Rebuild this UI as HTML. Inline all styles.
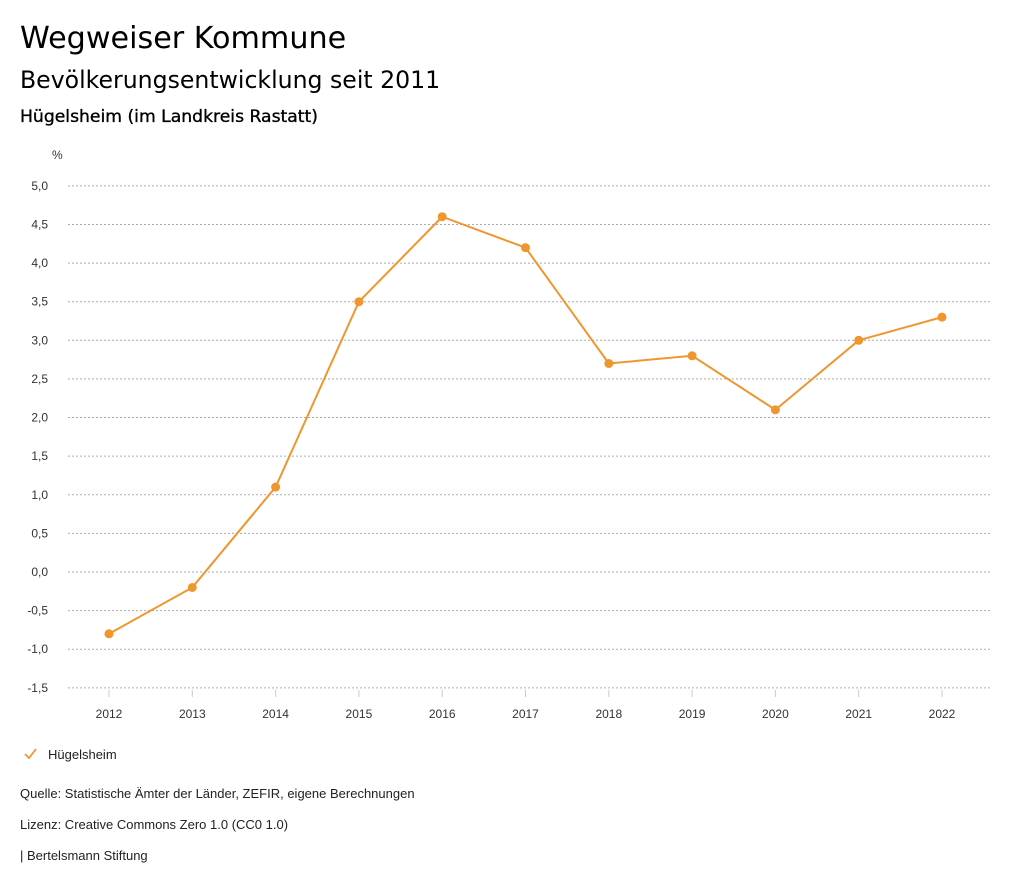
<!DOCTYPE html>
<html><head><meta charset="utf-8"><style>
body{margin:0;background:#fff;font-family:"Liberation Sans",sans-serif;}
svg{display:block}
.h{font-family:"DejaVu Sans",sans-serif;}
</style></head><body>
<svg width="1024" height="888" xmlns="http://www.w3.org/2000/svg">
<text class="h" x="20" y="48" font-size="30.2" fill="#000">Wegweiser Kommune</text>
<text class="h" x="20" y="88" font-size="23.6" fill="#000">Bevölkerungsentwicklung seit 2011</text>
<text class="h" x="20" y="122" font-size="17.2" fill="#000" stroke="#000" stroke-width="0.35">Hügelsheim (im Landkreis Rastatt)</text>
<text x="52" y="159" font-size="12" fill="#333">%</text>
<g id="grid"></g><g id="xt"></g><g id="series"></g>
<g>
<polyline points="25,754 29,758 36,749" fill="none" stroke="#f0962e" stroke-width="1.8"/>
<text x="48" y="759" font-size="13" fill="#222">Hügelsheim</text>
</g>
<text x="20" y="798" font-size="13" fill="#222">Quelle: Statistische Ämter der Länder, ZEFIR, eigene Berechnungen</text>
<text x="20" y="829" font-size="13" fill="#222">Lizenz: Creative Commons Zero 1.0 (CC0 1.0)</text>
<text x="20" y="860" font-size="13" fill="#222">| Bertelsmann Stiftung</text>
</svg>
<script>
const years=[2012,2013,2014,2015,2016,2017,2018,2019,2020,2021,2022];
const values=[-0.8,-0.2,1.1,3.5,4.6,4.2,2.7,2.8,2.1,3.0,3.3];
const yTicks=[5.0,4.5,4.0,3.5,3.0,2.5,2.0,1.5,1.0,0.5,0.0,-0.5,-1.0,-1.5];
const NS="http://www.w3.org/2000/svg";
function y(v){return 572-v*77.23;}
function x(i){return 109+i*83.3;}
function mk(t,a,p){const e=document.createElementNS(NS,t);for(const k in a)e.setAttribute(k,a[k]);p.appendChild(e);return e;}
const g=document.getElementById('grid');
yTicks.forEach(v=>{
 const l=mk('line',{x1:68,x2:990,y1:y(v),y2:y(v),stroke:'#aaa','stroke-dasharray':'2,2','stroke-width':1},g);
 
 
 const t=mk('text',{x:48,y:y(v)+4,'font-size':12,fill:'#333','text-anchor':'end'},g);
 t.textContent=v.toFixed(1).replace('.',',');
 
 
});
const xt=document.getElementById('xt');
years.forEach((yr,i)=>{
 const l=mk('line',{x1:x(i),x2:x(i),y1:690,y2:697,stroke:'#ccc'},xt);
 
 
 const t=mk('text',{x:x(i),y:718,'font-size':12,fill:'#333','text-anchor':'middle'},xt);
 t.textContent=yr;
 
 
});
const s=document.getElementById('series');
const pl=mk('polyline',{points:values.map((v,i)=>x(i)+','+y(v)).join(' '),fill:'none',stroke:'#f0962e','stroke-width':2},s);


values.forEach((v,i)=>{
 const c=mk('circle',{cx:x(i),cy:y(v),r:4.5,fill:'#f0962e'},s);
 
 
});
</script>
</body></html>
